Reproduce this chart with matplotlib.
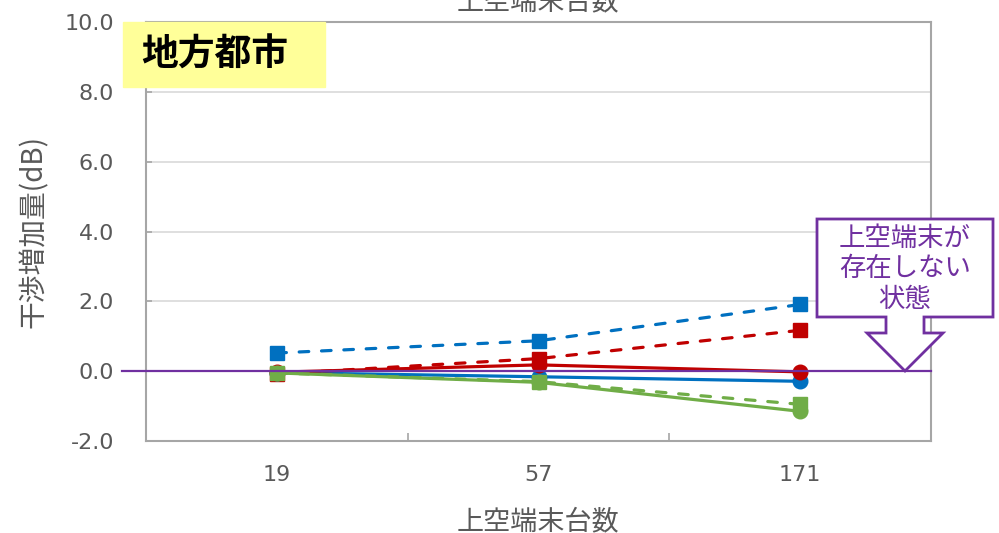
import matplotlib.pyplot as plt
from matplotlib.patches import Polygon, Rectangle

plt.rcParams['font.family'] = ['Noto Sans CJK JP', 'DejaVu Sans']

# Data
terminals = ['19', '57', '171']
blue_dashed = [0.52, 0.87, 1.91]
red_dashed = [-0.08, 0.36, 1.17]
blue_solid = [-0.04, -0.16, -0.29]
red_solid = [-0.03, 0.18, -0.02]
green_dashed = [-0.05, -0.30, -0.95]
green_solid = [-0.05, -0.32, -1.15]
y_ticks = [-2.0, 0.0, 2.0, 4.0, 6.0, 8.0, 10.0]

BLUE = '#0070C0'
RED = '#C00000'
GREEN = '#70AD47'
PURPLE = '#7030A0'
GREY = '#595959'

W, H = 999, 533


def px(x, y):
    # pixel position (from top-left) -> figure fraction
    return x / W, 1 - y / H


fig = plt.figure(figsize=(W / 100, H / 100), dpi=100)
ax = fig.add_axes([146 / W, 92 / H, 785 / W, 419 / H])

series = [
    (blue_dashed, BLUE, 's', True),
    (red_dashed, RED, 's', True),
    (blue_solid, BLUE, 'o', False),
    (red_solid, RED, 'o', False),
    (green_dashed, GREEN, 's', True),
    (green_solid, GREEN, 'o', False),
]
for i, (vals, color, marker, dashed) in enumerate(series):
    kw = dict(dashes=(3.0, 4.0), dash_capstyle='round') if dashed else {}
    ax.plot(terminals, vals, color=color, lw=2.3, marker=marker,
            markersize=10.5, zorder=3 + i, **kw)

ax.set_xlim(-0.5, 2.5)
ax.set_ylim(-2.0, 10.0)
ax.set_yticks(y_ticks)
ax.set_yticklabels([f'{v:.1f}' for v in y_ticks])
ax.set_xticks([0.5, 1.5], minor=True)

ax.grid(axis='y', color='#D9D9D9', lw=1.2)
ax.set_axisbelow(True)
for side in ['left', 'right', 'top', 'bottom']:
    ax.spines[side].set_color('#A6A6A6')
    ax.spines[side].set_linewidth(1.5)

ax.tick_params(axis='x', which='major', length=0, pad=17,
               labelsize=16, labelcolor=GREY)
ax.tick_params(axis='x', which='minor', direction='in', length=6,
               color='#A6A6A6', width=1.2)
ax.tick_params(axis='y', direction='in', length=4, color='#A6A6A6',
               width=1.2, pad=23, labelsize=16, labelcolor=GREY)
for lab in ax.get_xticklabels() + ax.get_yticklabels():
    lab.set_family('DejaVu Sans')

ax.set_xlabel('上空端末台数', fontsize=19.5, color=GREY, labelpad=17)
ax.set_ylabel('干渉増加量(dB)', fontsize=20, color=GREY, labelpad=11)

# zero reference line, reaching a bit left of the axis
ax.plot([-0.03, 1.0], [0, 0], color=PURPLE, lw=1.6,
        transform=ax.get_yaxis_transform(), clip_on=False, zorder=20)

# clipped title at the very top
fig.text(px(538, 0)[0], px(0, 15)[1], '上空端末台数', fontsize=19.5,
         color=GREY, ha='center', va='bottom')

# yellow label box
x0, y0 = px(123, 87)
x1, y1 = px(325, 22)
fig.patches.append(Rectangle((x0, y0), x1 - x0, y1 - y0, color='#FFFF99',
                             transform=fig.transFigure, zorder=30))
fig.text(*px(141, 55), '地方都市', fontsize=26.5, fontweight='bold',
         color='black', ha='left', va='center', zorder=31)

# callout arrow
outline = [(817, 219), (993, 219), (993, 317), (924, 317), (924, 333),
           (943, 333), (905, 371), (867, 333), (886, 333), (886, 317),
           (817, 317)]
fig.patches.append(Polygon([px(x, y) for x, y in outline], closed=True,
                           facecolor='white', edgecolor=PURPLE, lw=2,
                           transform=fig.transFigure, zorder=30))
fig.text(*px(905, 269), '上空端末が\n存在しない\n状態', fontsize=19,
         color=PURPLE, ha='center', va='center', linespacing=1.15,
         zorder=31)

fig.savefig('out.png', dpi=100)
